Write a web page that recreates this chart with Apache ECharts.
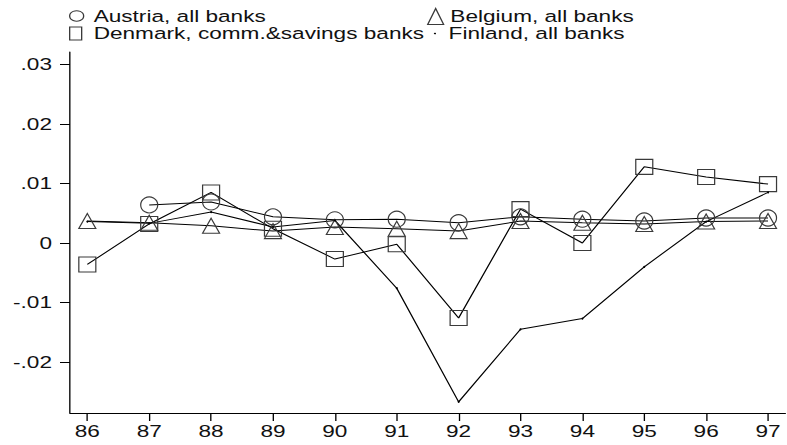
<!DOCTYPE html>
<html>
<head>
<meta charset="utf-8">
<script src="https://cdn.jsdelivr.net/npm/echarts@6/dist/echarts.min.js"></script>
<style>
  html, body { margin: 0; padding: 0; background: #fff; overflow: hidden; }
  #wrap { width: 787px; height: 445px; overflow: hidden; }
  #chart { height: 445px; transform-origin: 0 0; }
</style>
</head>
<body>
<div id="wrap"><div id="chart"></div></div>
<script>
// years on the x axis
var years = [86, 87, 88, 89, 90, 91, 92, 93, 94, 95, 96, 97];

// series values
var austria = [null, 0.0064, 0.0069, 0.0044, 0.0039, 0.0040, 0.0034, 0.0044, 0.0040, 0.0037, 0.0042, 0.0042];
var belgium = [0.0037, 0.0034, 0.0029, 0.0020, 0.0027, 0.0024, 0.0020, 0.0037, 0.0034, 0.0032, 0.0036, 0.0037];
var denmark = [-0.0036, 0.0032, 0.0085, 0.0024, -0.0027, -0.0002, -0.0126, 0.0057, 0.0000, 0.0128, 0.0111, 0.0099];
var finland = [0.0036, 0.0033, 0.0052, 0.0027, 0.0038, -0.0076, -0.0267, -0.0145, -0.0127, -0.0040, 0.0036, 0.0085];

// tick values
var yTicks = [-0.02, -0.01, 0, 0.01, 0.02, 0.03];
var xTicks = years;

var names = ['Austria, all banks', 'Belgium, all banks', 'Denmark, comm.&savings banks', 'Finland, all banks'];

// the original graph is stretched sideways, so draw narrow and widen with css
var S = 1.33;
var el = document.getElementById('chart');
el.style.width = (787 / S) + 'px';
el.style.transform = 'scaleX(' + S + ')';

var font = "'Liberation Sans', Arial, Helvetica, sans-serif";
var markBorder = '#3a3a3a';

function pairs(vals) {
  return years.map(function (y, i) { return [y, vals[i]]; });
}

function fmtY(v) {
  if (Math.abs(v) < 1e-9) return '0';
  return (v < 0 ? '-' : '') + Math.abs(v).toFixed(2).replace(/^0/, '');
}

function lineSeries(name, vals, symbol, size) {
  return {
    name: name,
    type: 'line',
    data: pairs(vals),
    symbol: symbol,
    symbolSize: size,
    showSymbol: true,
    connectNulls: false,
    lineStyle: { color: '#000', width: 1 },
    itemStyle: { color: 'rgba(0,0,0,0)', borderColor: markBorder, borderWidth: 1 },
    emphasis: { disabled: true }
  };
}

function legendBox(name, left, top, icon, w, h, padLeft, style) {
  return {
    show: true,
    left: left,
    top: top,
    padding: 0,
    itemWidth: w,
    itemHeight: h,
    symbolKeepAspect: false,
    selectedMode: false,
    data: [{ name: name, icon: icon, itemStyle: style }],
    textStyle: {
      fontFamily: font,
      fontSize: 17,
      lineHeight: 17,
      color: '#111',
      padding: [0, 0, 0, padLeft]
    }
  };
}

var hollow = { color: 'rgba(0,0,0,0)', borderColor: markBorder, borderWidth: 1 };

var chart = echarts.init(el, null, { renderer: 'svg' });

var option = {
  animation: false,
  backgroundColor: '#fff',
  legend: [
    legendBox(names[0], 69 / S, 7.5, 'circle', 14 / S, 14, 2.5, hollow),
    legendBox(names[1], 427 / S, 8, 'triangle', 16 / S, 16, 0, hollow),
    legendBox(names[2], 69 / S, 25, 'rect', 12 / S, 13, 4, hollow),
    legendBox(names[3], 434 / S, 25, 'circle', 2 / S, 2, 4.5, { color: '#000', borderWidth: 0 })
  ],
  grid: {
    left: 70 / S,
    right: 2 / S,
    top: 52,
    bottom: 32,
    containLabel: false
  },
  xAxis: {
    type: 'value',
    min: 85.72,
    max: 97.28,
    axisLine: { show: true, onZero: false, lineStyle: { color: '#000', width: 1 } },
    axisTick: { show: true, length: 8, customValues: xTicks, lineStyle: { color: '#000' } },
    axisLabel: {
      customValues: xTicks,
      margin: 10,
      fontFamily: font,
      fontSize: 17,
      color: '#111',
      formatter: function (v) { return String(v); }
    },
    splitLine: { show: false }
  },
  yAxis: {
    type: 'value',
    min: -0.02857,
    max: 0.0321,
    axisLine: { show: true, onZero: false, lineStyle: { color: '#000', width: 1 } },
    axisTick: { show: true, length: 10 / S, customValues: yTicks, lineStyle: { color: '#000' } },
    axisLabel: {
      customValues: yTicks,
      margin: 18 / S,
      fontFamily: font,
      fontSize: 17,
      color: '#111',
      formatter: fmtY
    },
    splitLine: { show: false }
  },
  series: [
    lineSeries(names[0], austria, 'circle', [17 / S, 16]),
    lineSeries(names[1], belgium, 'triangle', [17 / S, 15]),
    lineSeries(names[2], denmark, 'rect', [17 / S, 15]),
    {
      name: names[3],
      type: 'line',
      data: pairs(finland),
      symbol: 'circle',
      symbolSize: [2 / S, 2],
      showSymbol: true,
      lineStyle: { color: '#000', width: 1 },
      itemStyle: { color: '#000', borderWidth: 0 },
      emphasis: { disabled: true }
    }
  ]
};

chart.setOption(option);
</script>
</body>
</html>
